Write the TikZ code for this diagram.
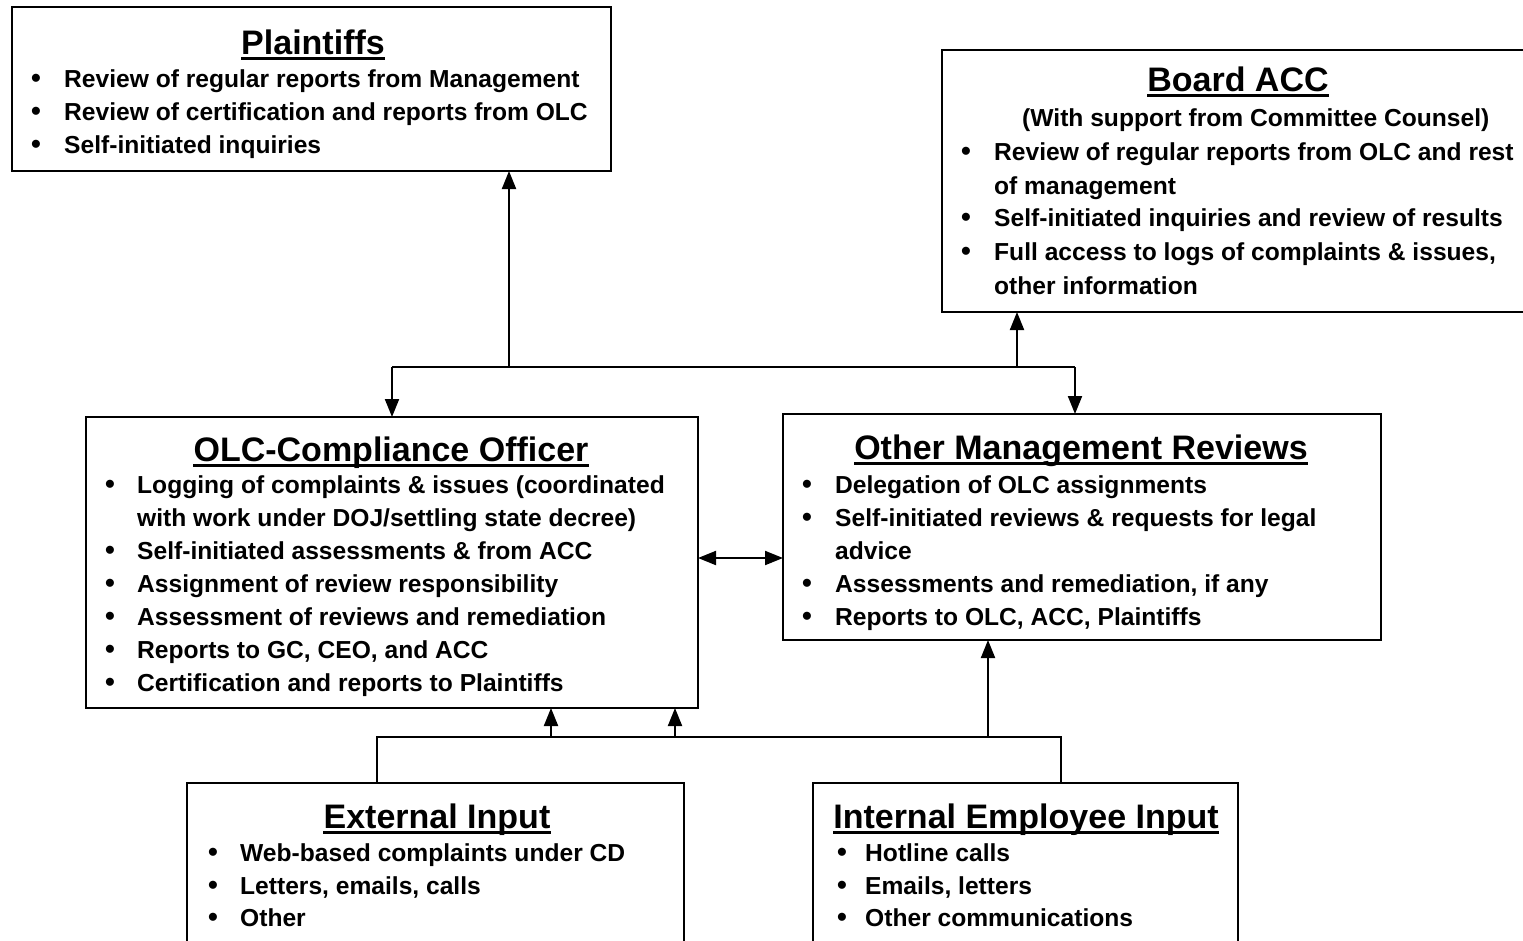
\documentclass[tikz,border=0pt]{standalone}
\usepackage{fontspec}
\setmainfont{Liberation Sans}
\usetikzlibrary{arrows.meta}
\tikzset{
  box/.style={draw=black, line width=2pt, anchor=north west, inner sep=0pt, outer sep=0pt},
  ttl/.style={font=\fontsize{34}{40}\selectfont\bfseries, anchor=base, inner sep=0pt},
  txt/.style={font=\fontsize{24.6}{33}\selectfont\bfseries, anchor=base west, inner sep=0pt},
  bul/.style={font=\fontsize{28}{33}\selectfont\bfseries, anchor=base, inner sep=0pt},
  wire/.style={line width=2pt, draw=black},
  arr/.style={wire, -{Triangle[length=18pt,width=14pt]}},
  arrr/.style={wire, {Triangle[length=18pt,width=14pt]}-{Triangle[length=18pt,width=14pt]}},
  uline/.style={line width=2.5pt}
}
\newcommand\ttlx[4]{\node[ttl] (#1) at (#2,#3) {#4};
  \draw[uline] ([yshift=-4.5pt]#1.base west) -- ([yshift=-4.5pt]#1.base east);}
\newcommand\itm[5]{\node[bul] (#1b) at (#2,#4) {\textbullet};
  \node[txt] (#1) at (#3,#4) {#5};}
\newcommand\cnt[4]{\node[txt] (#1) at (#2,#3) {#4};}
\begin{document}
\begin{tikzpicture}[x=1pt,y=-1pt]
\useasboundingbox (0,0) rectangle (1523,940);
% boxes
\node[box, minimum width=599pt, minimum height=164pt] (pl) at (12,7) {};
\node[box, minimum width=590pt, minimum height=262pt] (acc) at (942,50) {};
\node[box, minimum width=612pt, minimum height=291pt] (olc) at (86,417) {};
\node[box, minimum width=598pt, minimum height=226pt] (omr) at (783,414) {};
\node[box, minimum width=497pt, minimum height=170pt] (ext) at (187,783) {};
\node[box, minimum width=425pt, minimum height=170pt] (int) at (813,783) {};
% Plaintiffs
\ttlx{plT}{313}{54}{Plaintiffs}
\itm{pl1}{36}{64}{87}{Review of regular reports from Management}
\itm{pl2}{36}{64}{120}{Review of certification and reports from OLC}
\itm{pl3}{36}{64}{153}{Self-initiated inquiries}
% Board ACC
\ttlx{accT}{1238}{91}{Board ACC}
\cnt{accS}{1022}{126}{(With support from Committee Counsel)}
\itm{ac1}{966}{994}{160}{Review of regular reports from OLC and rest}
\cnt{ac1c}{994}{194}{of management}
\itm{ac2}{966}{994}{226}{Self-initiated inquiries and review of results}
\itm{ac3}{966}{994}{260}{Full access to logs of complaints \& issues,}
\cnt{ac3c}{994}{294}{other information}
% OLC
\ttlx{olcT}{391}{461}{OLC-Compliance Officer}
\itm{ol1}{110}{137}{493}{Logging of complaints \& issues (coordinated}
\cnt{ol1c}{137}{526}{with work under DOJ/settling state decree)}
\itm{ol2}{110}{137}{559}{Self-initiated assessments \& from ACC}
\itm{ol3}{110}{137}{592}{Assignment of review responsibility}
\itm{ol4}{110}{137}{625}{Assessment of reviews and remediation}
\itm{ol5}{110}{137}{658}{Reports to GC, CEO, and ACC}
\itm{ol6}{110}{137}{691}{Certification and reports to Plaintiffs}
% Other Management Reviews
\ttlx{omrT}{1081}{459}{Other Management Reviews}
\itm{om1}{807}{835}{493}{Delegation of OLC assignments}
\itm{om2}{807}{835}{526}{Self-initiated reviews \& requests for legal}
\cnt{om2c}{835}{559}{advice}
\itm{om3}{807}{835}{592}{Assessments and remediation, if any}
\itm{om4}{807}{835}{625}{Reports to OLC, ACC, Plaintiffs}
% External Input
\ttlx{extT}{437}{828}{External Input}
\itm{ex1}{213}{240}{861}{Web-based complaints under CD}
\itm{ex2}{213}{240}{894}{Letters, emails, calls}
\itm{ex3}{213}{240}{926}{Other}
% Internal Employee Input
\ttlx{intT}{1026}{828}{Internal Employee Input}
\itm{in1}{842}{865}{861}{Hotline calls}
\itm{in2}{842}{865}{894}{Emails, letters}
\itm{in3}{842}{865}{926}{Other communications}
% top connectors
\coordinate (hl) at (392,367);
\coordinate (hr) at (1075,367);
\coordinate (hp) at (509,367);
\coordinate (ha) at (1017,367);
\draw[wire] (hl) -- (hr);
\draw[arr] (hp) -- (pl.south -| hp);
\draw[arr] (ha) -- (acc.south -| ha);
\draw[arr] (hl) -- (olc.north -| hl);
\draw[arr] (hr) -- (omr.north -| hr);
% middle double arrow
\coordinate (mm) at (740,558);
\draw[arrr] (olc.east |- mm) -- (omr.west |- mm);
% bottom connectors
\coordinate (bl) at (377,737);
\coordinate (br) at (1061,737);
\coordinate (b1) at (551,737);
\coordinate (b2) at (675,737);
\coordinate (b3) at (988,737);
\draw[wire] (ext.north -| bl) -- (bl) -- (br) -- (int.north -| br);
\draw[arr] (b1) -- (olc.south -| b1);
\draw[arr] (b2) -- (olc.south -| b2);
\draw[arr] (b3) -- (omr.south -| b3);
\end{tikzpicture}
\end{document}
